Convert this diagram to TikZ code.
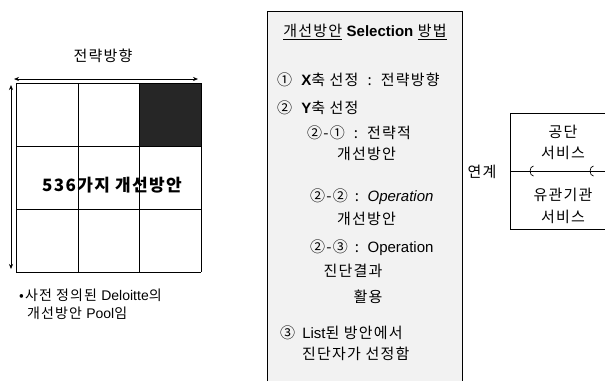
\documentclass[tikz,border=0pt]{standalone}
\usepackage{fontspec}
\setmainfont{Noto Sans CJK KR}[LetterSpace=8]
\newfontfamily\lat{Liberation Sans}
\usetikzlibrary{arrows.meta}
\begin{document}
\begin{tikzpicture}[x=1pt,y=-1pt,
  txt/.style={inner sep=0pt, anchor=west, font=\fontsize{15}{17}\selectfont},
  ctxt/.style={inner sep=0pt, font=\fontsize{15}{17}\selectfont},
  gridline/.style={line width=0.8pt},
  boxline/.style={line width=0.9pt},
  dbl/.style={{Stealth[length=5pt,width=4pt]}-{Stealth[length=5pt,width=4pt]}, line width=0.7pt}]
\useasboundingbox (0,0) rectangle (605,381);
% ---------- left grid ----------
\fill[black!85] (139,83) rectangle (201,146);
\foreach \x in {16,78,139,201} \draw[gridline] (\x,83) -- (\x,272);
\foreach \y in {83,146,209,272} \draw[gridline] (16,\y) -- (201,\y);
\coordinate (hl) at (14,79);
\coordinate (hr) at (198,79);
\draw[dbl] (hl) -- (hr);
\coordinate (vt) at (11,85);
\coordinate (vb) at (11,269);
\draw[dbl] (vt) -- (vb);
\node[ctxt] (title) at (103,56) {전략방향};
\node[inner sep=0pt, font=\fontsize{17}{19}\selectfont\bfseries] (big) at (112,185) {536가지 개선방안};
\node[txt, font=\fontsize{14}{16}\selectfont] (note1) at (19,295) {•사전 정의된 {\lat Deloitte}의};
\node[txt, font=\fontsize{14}{16}\selectfont] (note2) at (27,313) {개선방안 {\lat Pool}임};
% ---------- middle box ----------
\fill[gray!10] (267,11) rectangle (462,381);
\coordinate (mbl) at (267,381);
\coordinate (mtl) at (267,11);
\coordinate (mtr) at (462,11);
\coordinate (mbr) at (462,381);
\draw[boxline] (mbl) -- (mtl) -- (mtr) -- (mbr);
\node[ctxt] (head) at (365,32) {\underline{개선방안} {\lat\bfseries Selection} \underline{방법}};
\node[txt] (i1) at (277,80) {①\ \ {\lat\bfseries X}축 선정\ \ :\ \ 전략방향};
\node[txt] (i2) at (277,108) {②\ \ {\lat\bfseries Y}축 선정};
\node[txt] (i21) at (307,133) {②-①\ \ :\ \ 전략적};
\node[txt] (i21b) at (337,154) {개선방안};
\node[txt] (i22) at (310,197) {②-② \,:\, {\lat\itshape Operation}};
\node[txt] (i22b) at (337,219) {개선방안};
\node[txt] (i23) at (310,248) {②-③ \,:\, {\lat Operation}};
\node[ctxt] (i23b) at (353,271) {진단결과};
\node[ctxt] (i23c) at (368,297) {활용};
\node[txt] (i3) at (280,333) {③\, {\lat List}된 방안에서};
\node[txt] (i3b) at (302,354) {진단자가 선정함};
% ---------- right ----------
\node[ctxt] (link) at (482,172) {연계};
\coordinate (rtr) at (605,113);
\coordinate (rtl) at (510,113);
\coordinate (rbl) at (510,229);
\coordinate (rbr) at (605,229);
\coordinate (rml) at (510,171);
\coordinate (rmr) at (605,171);
\draw[boxline] (rtr) -- (rtl) -- (rbl) -- (rbr);
\draw[boxline] (rml) -- (rmr);
\foreach \hx in {532,592} {
  \draw[line width=0.7pt] (\hx+1.5,166) .. controls (\hx-3,166) and (\hx-3,176) .. (\hx+1.5,176);
}
\node[ctxt] (s1) at (563,132) {공단};
\node[ctxt] (s1b) at (563,153) {서비스};
\node[ctxt] (s2) at (563,195) {유관기관};
\node[ctxt] (s2b) at (563,217) {서비스};
\end{tikzpicture}
\end{document}
